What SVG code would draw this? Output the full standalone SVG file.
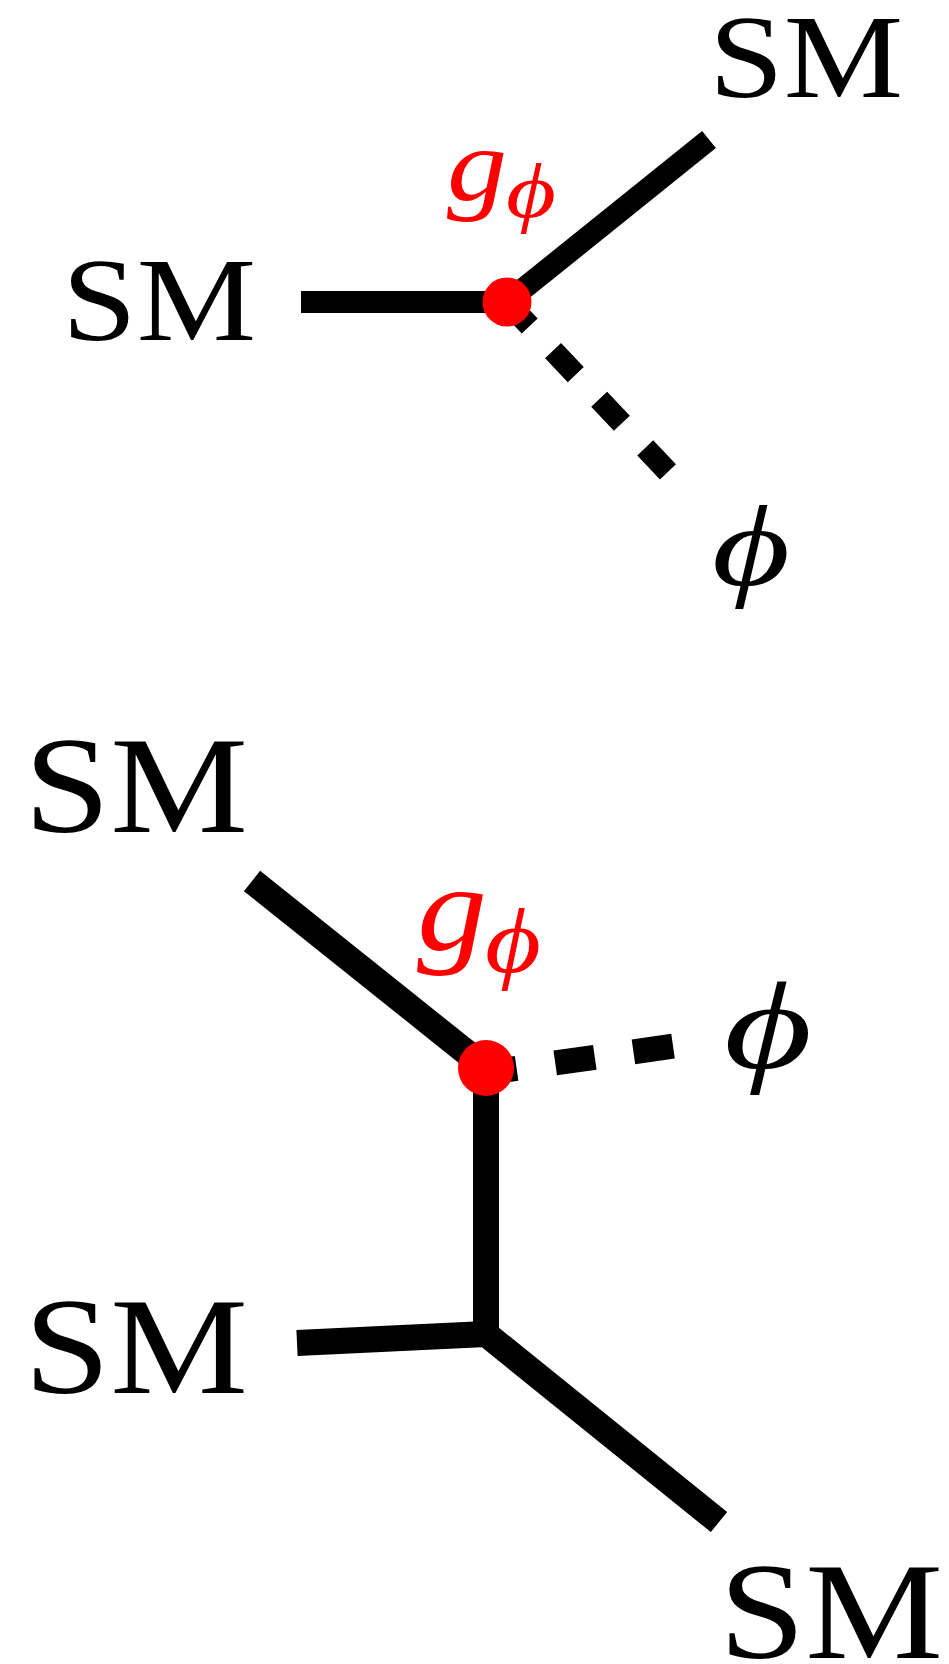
<svg xmlns="http://www.w3.org/2000/svg" width="949" height="1664" viewBox="0 0 949 1664">
<style>
.ln{stroke:#000;fill:none;stroke-linecap:butt;stroke-linejoin:miter}
.sm{font-family:"Liberation Serif","DejaVu Serif",serif;fill:#000}
.it{font-family:"Liberation Serif","DejaVu Serif",serif;font-style:italic}
.v{fill:#ff0000}
</style>
<rect width="949" height="1664" fill="#fff"/>
<g id="connectors">
<line class="ln" x1="301" y1="302" x2="507" y2="302" stroke-width="22"/>
<line class="ln" x1="507" y1="302" x2="709" y2="139.5" stroke-width="22"/>
<line class="ln" x1="507" y1="302" x2="669" y2="473" stroke-width="22" stroke-dasharray="33 34"/>
<line class="ln" x1="252" y1="881" x2="486" y2="1068" stroke-width="26"/>
<line class="ln" x1="477" y1="1074" x2="674" y2="1046" stroke-width="25" stroke-dasharray="40 39"/>
<line class="ln" x1="486" y1="1068" x2="486" y2="1335" stroke-width="26"/>
<polyline class="ln" points="297,1343 486,1334 719,1522" stroke-width="26"/>
</g>
<g id="vertex1"><circle class="v" cx="507" cy="302" r="24.5"/></g>
<g id="vertex2"><circle class="v" cx="486" cy="1068" r="28"/></g>
<g id="label-sm-top-left"><text class="sm" x="62" y="340" font-size="118" textLength="194" lengthAdjust="spacingAndGlyphs">SM</text></g>
<g id="label-sm-top-right"><text class="sm" x="709" y="97" font-size="118" textLength="194" lengthAdjust="spacingAndGlyphs">SM</text></g>
<g id="label-g-top"><text class="it" fill="#ff0000" x="447" y="200" font-size="104" textLength="60" lengthAdjust="spacingAndGlyphs">g</text><text class="it" fill="#ff0000" x="506" y="217" font-size="78" textLength="50" lengthAdjust="spacingAndGlyphs">ϕ</text></g>
<g id="label-phi-top"><text class="it" fill="#000" x="712" y="585" font-size="115" textLength="78" lengthAdjust="spacingAndGlyphs">ϕ</text></g>
<g id="label-sm-bottom-upper"><text class="sm" x="24" y="832" font-size="137" textLength="224" lengthAdjust="spacingAndGlyphs">SM</text></g>
<g id="label-g-bottom"><text class="it" fill="#ff0000" x="417" y="950" font-size="122" textLength="70" lengthAdjust="spacingAndGlyphs">g</text><text class="it" fill="#ff0000" x="485" y="972" font-size="92" textLength="56" lengthAdjust="spacingAndGlyphs">ϕ</text></g>
<g id="label-phi-bottom"><text class="it" fill="#000" x="724" y="1068" font-size="125" textLength="88" lengthAdjust="spacingAndGlyphs">ϕ</text></g>
<g id="label-sm-bottom-left"><text class="sm" x="24" y="1393" font-size="137" textLength="224" lengthAdjust="spacingAndGlyphs">SM</text></g>
<g id="label-sm-bottom-right"><text class="sm" x="719" y="1658" font-size="137" textLength="224" lengthAdjust="spacingAndGlyphs">SM</text></g>
</svg>
